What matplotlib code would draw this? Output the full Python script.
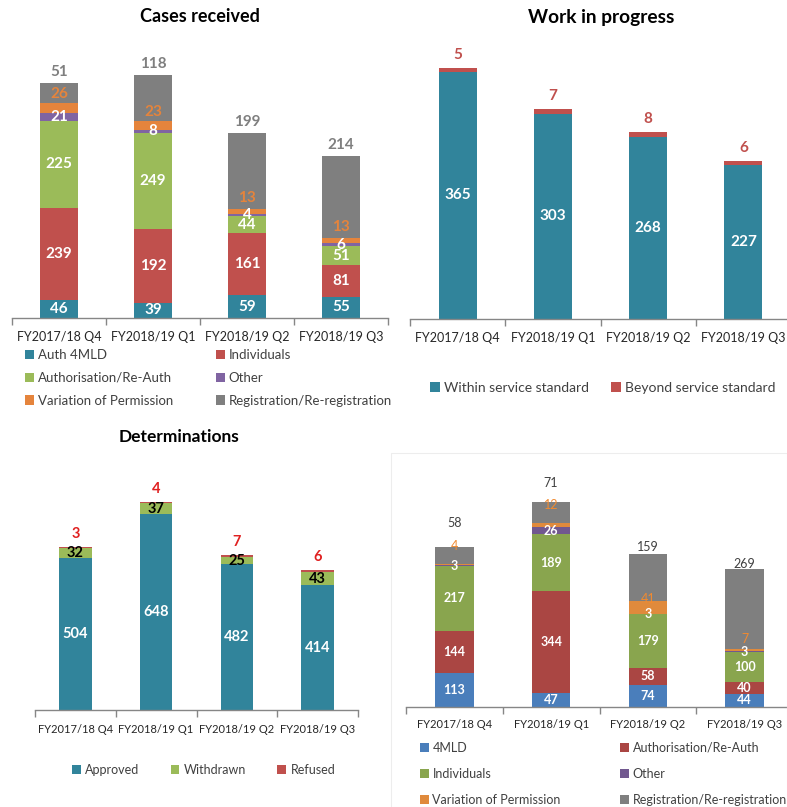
import matplotlib
matplotlib.use("Agg")
import matplotlib.pyplot as plt
import numpy as np
from matplotlib.patches import Rectangle

plt.rcParams['font.family'] = ['Lato', 'DejaVu Sans']

categories = ["FY2017/18 Q4", "FY2018/19 Q1", "FY2018/19 Q2", "FY2018/19 Q3"]

# Cases received
cr_names = ["Auth 4MLD", "Individuals", "Authorisation/Re-Auth", "Other",
            "Variation of Permission", "Registration/Re-registration"]
cr_auth4mld = [46, 39, 59, 55]
cr_individuals = [239, 192, 161, 81]
cr_authorisation = [225, 249, 44, 51]
cr_other = [21, 8, 4, 6]
cr_variation = [26, 23, 13, 13]
cr_registration = [51, 118, 199, 214]

# Work in progress
wip_names = ["Within service standard", "Beyond service standard"]
wip_within = [365, 303, 268, 227]
wip_beyond = [5, 7, 8, 6]

# Determinations
det_names = ["Approved", "Withdrawn", "Refused"]
det_approved = [504, 648, 482, 414]
det_withdrawn = [32, 37, 25, 43]
det_refused = [3, 4, 7, 6]

# Fourth chart
f4_names = ["4MLD", "Authorisation/Re-Auth", "Individuals", "Other",
            "Variation of Permission", "Registration/Re-registration"]
f4_4mld = [113, 47, 74, 44]
f4_authorisation = [144, 344, 58, 40]
f4_individuals = [217, 189, 179, 100]
f4_other = [3, 26, 3, 3]
f4_variation = [4, 12, 41, 7]
f4_registration = [58, 71, 159, 269]

W, H = 787, 807
fig = plt.figure(figsize=(W / 100, H / 100), dpi=100)
fig.patch.set_facecolor("white")


def add_axes(x0, x1, ytop, ybase):
    return fig.add_axes([x0 / W, 1 - ybase / H, (x1 - x0) / W, (ybase - ytop) / H])


def style_axis(ax, ymax, pad, size):
    ax.set_xlim(-0.5, 3.5)
    ax.set_ylim(0, ymax)
    for s in ["left", "top", "right"]:
        ax.spines[s].set_visible(False)
    ax.spines["bottom"].set_color("#868686")
    ax.spines["bottom"].set_linewidth(1.0)
    ax.set_yticks([])
    ax.set_xticks(range(4))
    ax.set_xticklabels(categories, fontsize=size, color="#262626")
    ax.tick_params(axis="x", which="major", length=0, pad=pad)
    ax.set_xticks([-0.5, 0.5, 1.5, 2.5, 3.5], minor=True)
    ax.tick_params(axis="x", which="minor", length=5, color="#868686", width=1)
    ax.patch.set_alpha(0)


def draw_stack(ax, series, colors, width=0.4):
    x = np.arange(len(categories))
    bottom = np.zeros(len(categories))
    handles, bottoms = [], []
    for vals, c in zip(series, colors):
        v = np.array(vals, dtype=float)
        b = ax.bar(x, v, bottom=bottom, width=width, color=c, edgecolor="none")
        handles.append(b)
        bottoms.append(bottom.copy())
        bottom = bottom + v
    return x, handles, bottoms


def lab(ax, x, y, text, color, size, weight="bold", dy=0):
    ax.annotate(text, (x, y), xytext=(0, dy), textcoords="offset pixels",
                ha="center", va="center", color=color, fontsize=size,
                fontweight=weight)


def legend_box(x0, ytop, width):
    return (x0 / W, 1 - ytop / H - 0.01, width / W, 0.01)


# ---------------- Cases received ----------------
ax1 = add_axes(12, 388, 60, 318)
cr_series = [cr_auth4mld, cr_individuals, cr_authorisation, cr_other, cr_variation, cr_registration]
cr_colors = ["#31849B", "#C0504D", "#9BBB59", "#8064A2", "#E5843C", "#7F7F7F"]
x, h1, b1 = draw_stack(ax1, cr_series, cr_colors)
style_axis(ax1, 668, 9.7, 9)
for i in range(4):
    for k in range(4):
        v = cr_series[k][i]
        lab(ax1, x[i], b1[k][i] + v / 2, str(v), "white", 11)
    v = cr_variation[i]
    lab(ax1, x[i], b1[4][i] + v / 2, str(v), "#E5843C", 11, dy=13.5)
    v = cr_registration[i]
    lab(ax1, x[i], b1[5][i] + v, str(v), "#7F7F7F", 11, dy=11)
fig.text(200 / W, 1 - 17 / H, "Cases received", ha="center", va="center",
         fontsize=13, fontweight="bold", color="black")
order = [0, 2, 4, 1, 3, 5]
fig.legend([h1[j] for j in order], [cr_names[j] for j in order], ncol=2,
           loc="upper left", bbox_to_anchor=legend_box(25, 349, 367),
           mode="expand", frameon=False, fontsize=9.5, handlelength=0.7,
           handleheight=0.7, handletextpad=0.3, labelspacing=0.82,
           borderaxespad=0, borderpad=0, labelcolor="#404040")

# ---------------- Work in progress ----------------
ax2 = add_axes(410, 791, 60, 319)
wip_series = [wip_within, wip_beyond]
wip_colors = ["#31849B", "#C0504D"]
x, h2, b2 = draw_stack(ax2, wip_series, wip_colors)
style_axis(ax2, 382, 9.7, 9)
for i in range(4):
    v = wip_within[i]
    lab(ax2, x[i], v / 2, str(v), "white", 11)
    lab(ax2, x[i], b2[1][i] + wip_beyond[i], str(wip_beyond[i]), "#C0504D", 11, dy=13)
fig.text(601 / W, 1 - 17 / H, "Work in progress", ha="center", va="center",
         fontsize=13.8, fontweight="bold", color="black")
fig.legend(h2, wip_names, ncol=2, loc="center left",
           bbox_to_anchor=(430 / W, 1 - 388 / H), frameon=False, fontsize=10,
           handlelength=0.7, handleheight=0.7, handletextpad=0.3,
           columnspacing=1.6, borderaxespad=0, borderpad=0, labelcolor="#404040")

# ---------------- Determinations ----------------
ax3 = add_axes(35, 358, 470, 710)
det_series = [det_approved, det_withdrawn, det_refused]
det_colors = ["#31849B", "#9BBB59", "#C0504D"]
x, h3, b3 = draw_stack(ax3, det_series, det_colors)
style_axis(ax3, 795, 10, 8)
for i in range(4):
    v = det_approved[i]
    lab(ax3, x[i], v / 2, str(v), "white", 10.5)
    v = det_withdrawn[i]
    lab(ax3, x[i], b3[1][i] + v / 2, str(v), "black", 10.5)
    v = det_refused[i]
    lab(ax3, x[i], b3[2][i] + v, str(v), "#E02020", 10.5, dy=13)
fig.text(179 / W, 1 - 437 / H, "Determinations", ha="center", va="center",
         fontsize=12.5, fontweight="bold", color="black")
fig.legend(h3, det_names, ncol=3, loc="center left",
           bbox_to_anchor=(72 / W, 1 - 770 / H), frameon=False, fontsize=9,
           handlelength=0.7, handleheight=0.7, handletextpad=0.35,
           columnspacing=2.5, borderaxespad=0, borderpad=0, labelcolor="#404040")

# ---------------- Fourth chart ----------------
fig.add_artist(Rectangle((391 / W, 0), (W - 391) / W, 1 - 453 / H,
                         transform=fig.transFigure, fill=False,
                         edgecolor="#EDEDED", linewidth=0.8))
ax4 = add_axes(406, 793, 480, 707)
f4_series = [f4_4mld, f4_authorisation, f4_individuals, f4_other, f4_variation, f4_registration]
f4_colors = ["#4A7EBB", "#AA4643", "#89A54E", "#71588F", "#E08A3C", "#7F7F7F"]
x, h4, b4 = draw_stack(ax4, f4_series, f4_colors)
style_axis(ax4, 763, 8.5, 8)
grey_dy = [24, 19, 7, 5]
orange_dy = [18, 20, 8, 11]
for i in range(4):
    for k in range(4):
        v = f4_series[k][i]
        lab(ax4, x[i], b4[k][i] + v / 2, str(v), "white", 9)
    v = f4_variation[i]
    lab(ax4, x[i], b4[4][i] + v / 2, str(v), "#F08A30", 9, weight="normal", dy=orange_dy[i])
    v = f4_registration[i]
    lab(ax4, x[i], b4[5][i] + v, str(v), "#404040", 9, weight="normal", dy=grey_dy[i])
fig.legend([h4[j] for j in order], [f4_names[j] for j in order], ncol=2,
           loc="upper left", bbox_to_anchor=legend_box(420, 742, 367),
           mode="expand", frameon=False, fontsize=9, handlelength=0.7,
           handleheight=0.7, handletextpad=0.3, labelspacing=1.1,
           borderaxespad=0, borderpad=0, labelcolor="#404040")

fig.savefig("out.png", dpi=100, facecolor="white")
